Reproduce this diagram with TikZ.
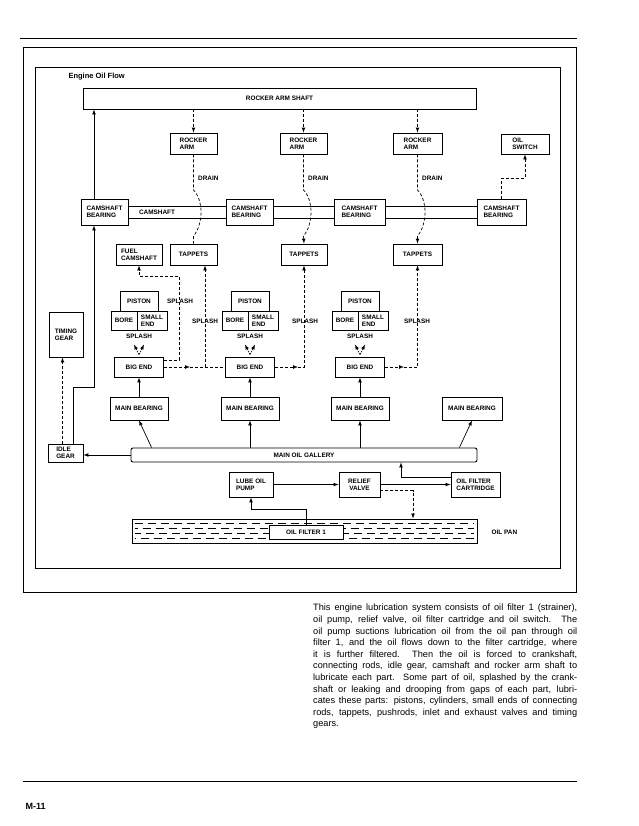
\documentclass[tikz,border=0pt]{standalone}
\usepackage{fontspec}
\setmainfont{Liberation Sans}
\newcommand{\lbl}{\fontsize{6.4}{7}\selectfont\bfseries}
\tikzset{
  box/.style n args={2}{draw, line width=0.9pt, align=left, font=\lbl, inner sep=1pt, minimum width=#1pt, minimum height=#2pt},
  flow/.style={->, line width=0.7pt},
  splash/.style={->, line width=0.7pt, dash pattern=on 3pt off 2pt},
  tag/.style={font=\lbl, inner sep=0.5pt},
}
\begin{document}
\begin{tikzpicture}[x=1pt, y=-1pt, >=latex]
\useasboundingbox (0,0) rectangle (638,826);
% page frame
\draw[line width=0.7pt] (20,38) -- (577,38);
\draw[line width=0.7pt] (23,592) |- (576,47) -- (576,592) -- cycle;
\draw[line width=0.9pt] (35,67) rectangle (560,568);
\node[anchor=west, font=\fontsize{7.5}{9}\selectfont\bfseries] (title) at (65,77) {Engine Oil Flow};

% upper part
\node[box={393}{21}, align=center] (shaft) at (279.5,98.5) {ROCKER ARM SHAFT};
\node[box={47}{21}] (rock1) at (193.5,143.5) {ROCKER\\ARM};
\node[box={47}{21}] (rock2) at (303.5,143.5) {ROCKER\\ARM};
\node[box={49}{21}] (rock3) at (417.5,143.5) {ROCKER\\ARM};
\node[box={48}{20}] (oilsw) at (525,144) {OIL\\SWITCH};
\node[box={47}{26}] (camb1) at (104.5,212) {CAMSHAFT\\BEARING};
\node[box={47}{26}] (camb2) at (249.5,212) {CAMSHAFT\\BEARING};
\node[box={51}{26}] (camb3) at (359.5,212) {CAMSHAFT\\BEARING};
\node[box={49}{26}] (camb4) at (501.5,212) {CAMSHAFT\\BEARING};
\node[box={46}{21}] (fuel) at (139,254.5) {FUEL\\CAMSHAFT};
\node[box={47}{21}, align=center] (tap1) at (193.5,254.5) {TAPPETS};
\node[box={46}{21}, align=center] (tap2) at (304,254.5) {TAPPETS};
\node[box={49}{21}, align=center] (tap3) at (417.5,254.5) {TAPPETS};

\foreach \a/\b in {camb1/camb2, camb2/camb3, camb3/camb4} {
  \draw[line width=0.7pt] ([yshift=6pt]\a.east) -- ([yshift=6pt]\b.west);
  \draw[line width=0.7pt] ([yshift=-6pt]\a.east) -- ([yshift=-6pt]\b.west);
}
\node[tag] (camlbl) at (157,212) {CAMSHAFT};

\foreach \i/\x/\tip in {1/193.5/-, 2/303.5/->, 3/417.5/->} {
  \draw[splash] (shaft.south -| rock\i) -- (rock\i.north);
  \draw[splash, \tip] (rock\i.south) -- (\x,190) .. controls (\x+10,200) and (\x+10,224) .. (\x,236) -- (tap\i.north);
  \node[tag, anchor=west] (drain\i) at (\x+4,178) {DRAIN};
}
\draw[splash] (camb4.north) |- ([yshift=-24pt]oilsw.south) -- (oilsw.south);

% pistons, big ends, main bearings
\foreach \i/\c in {1/139, 2/250, 3/360} {
  \node[box={38}{20}, align=center] (pist\i) at (\c,301) {PISTON};
  \node[box={26}{19}] (bore\i) at (\c-15,320.5) {BORE};
  \node[box={30}{19}] (small\i) at (\c+13,320.5) {SMALL\\END};
  \node[tag] (spl\i) at (\c,336) {SPLASH};
  \node[box={49}{20}, align=center] (big\i) at (\c,367) {BIG END};
  \node[box={58}{23}, align=center] (main\i) at (\c,408.5) {MAIN BEARING};
  \draw[flow] (main\i) -- (big\i);
  \draw[splash, dash pattern=on 1.5pt off 1pt] ([yshift=2pt]big\i.north) -- ++(-5,-10);
  \draw[splash, dash pattern=on 1.5pt off 1pt] ([yshift=2pt]big\i.north) -- ++(5,-10);
}
\node[box={60}{23}, align=center] (main4) at (472,408.5) {MAIN BEARING};

% splash to tappets and fuel camshaft
\coordinate (f1) at (179,276);
\draw[splash] ([yshift=7pt]big1.east) -| (f1) -| (fuel.south);
\coordinate (j1) at (190,367);
\draw[splash] (big1.east) -- (j1);
\draw[splash, -] (j1) -- (big2.west);
\draw[splash] ([xshift=11.5pt]tap1.south |- j1) -- ([xshift=11.5pt]tap1.south);
\coordinate (j2) at (298,367);
\draw[splash] (big2.east) -- (j2);
\draw[splash] (j2) -| (tap2.south);
\coordinate (j3) at (404,367);
\draw[splash] (big3.east) -- (j3);
\draw[splash] (j3) -| (tap3.south);
\node[tag] (splA) at (180,301) {SPLASH};
\node[tag] (splB) at (205,321) {SPLASH};
\node[tag] (splC) at (305,321) {SPLASH};
\node[tag] (splD) at (417,321) {SPLASH};

% gears
\node[box={35}{18}] (idle) at (65.5,453) {IDLE\\GEAR};
\node[box={34}{45}] (timing) at (66,334.5) {TIMING\\GEAR};
\coordinate (bend) at (94,387);
\draw[flow] ([xshift=7.5pt]idle.north) |- (bend) -- (bend |- camb1.south);
\draw[flow] ([xshift=-10.5pt]camb1.north) -- ([xshift=-10.5pt]camb1.north |- shaft.south);
\draw[splash] ([xshift=-3pt]idle.north) -- ([xshift=-3pt]idle.north |- timing.south);

% gallery and pump
\node[box={346}{14}, rounded corners=2pt, align=center] (gallery) at (304,455) {MAIN OIL GALLERY};
\draw[flow] (gallery.west) -- (gallery.west -| idle.east);
\draw[flow] ([xshift=21pt]gallery.north west) -- (main1.south);
\draw[flow] (gallery.north -| main2) -- (main2.south);
\draw[flow] (gallery.north -| main3) -- (main3.south);
\draw[flow] ([xshift=-18pt]gallery.north east) -- (main4.south);

\node[box={44}{25}] (pump) at (251,484.5) {LUBE OIL\\PUMP};
\node[box={41}{25}, align=center] (relief) at (359.5,484.5) {RELIEF\\VALVE};
\node[box={49}{25}] (cart) at (475.5,484.5) {OIL FILTER\\CARTRIDGE};
\draw[flow] (pump.east) -- (relief.west);
\draw[flow] (relief.east) -- (cart.west);
\draw[flow] ([yshift=7pt]cart.west) -| ([xshift=97pt]gallery.south);

% oil pan
\node[draw, line width=0.9pt, minimum width=345pt, minimum height=24pt] (pan) at (304.5,531) {};
\foreach \y/\ph in {523/0, 528/5, 533/2, 538/7}
  \draw[line width=0.6pt, dash pattern=on 8pt off 5pt, dash phase=\ph pt] ([xshift=3pt]pan.west |- 0,\y) -- ([xshift=-3pt]pan.east |- 0,\y);
\node[box={74}{14}, fill=white, align=center] (filt) at (306,532) {OIL FILTER 1};
\node[tag, anchor=west] (panlbl) at (491,532) {OIL PAN};
\draw[splash] ([yshift=-6pt]relief.east) -| ([xshift=108.5pt]pan.north);
\draw[flow] (filt.north) |- ([yshift=-12pt]pump.south) -- (pump.south);

% text
\node[anchor=north west, text width=264pt, align=justify, inner sep=0pt, font=\fontsize{9.2}{11.6}\selectfont] (para) at (313,604) {This engine lubrication system consists of oil filter 1 (strainer),\linebreak oil pump, relief valve, oil filter cartridge and oil switch. The\linebreak oil pump suctions lubrication oil from the oil pan through oil\linebreak filter 1, and the oil flows down to the filter cartridge, where\linebreak it is further filtered.\ \ Then the oil is forced to crankshaft,\linebreak connecting rods, idle gear, camshaft and rocker arm shaft to\linebreak lubricate each part.\ \ Some part of oil, splashed by the crank-\linebreak shaft or leaking and drooping from gaps of each part, lubri-\linebreak cates these parts: pistons, cylinders, small ends of connecting\linebreak rods, tappets, pushrods, inlet and exhaust valves and timing\linebreak gears.};
\draw[line width=0.7pt] (23,781) -- (577,781);
\node[anchor=west, font=\fontsize{9}{10}\selectfont\bfseries] (page) at (22,806) {M-11};
\end{tikzpicture}
\end{document}
